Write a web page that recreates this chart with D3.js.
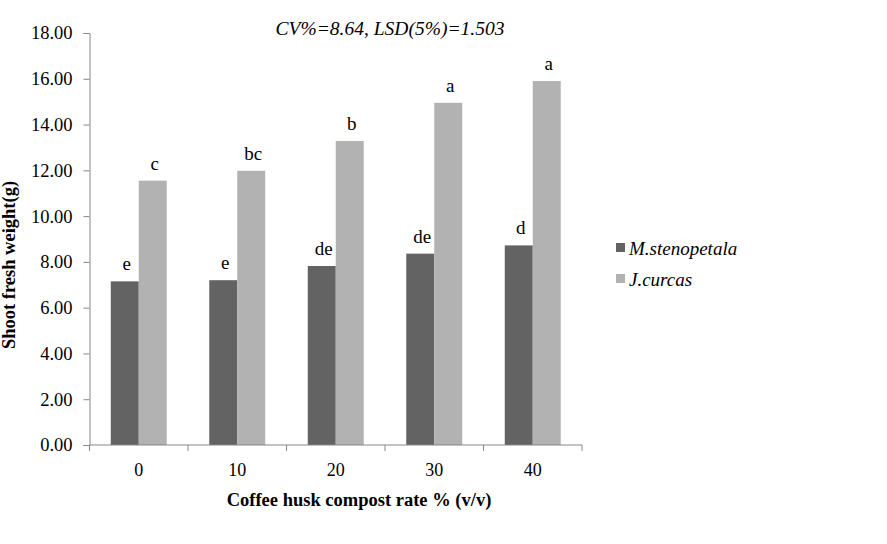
<!DOCTYPE html>
<html><head><meta charset="utf-8">
<script src="https://cdn.jsdelivr.net/npm/d3@7/dist/d3.min.js"></script>
<style>body{margin:0;background:#fff}svg{display:block}
svg text{font-family:"Liberation Serif","Times New Roman",Times,"DejaVu Serif",serif;}</style>
</head><body>
<svg id="c" width="887" height="544"></svg>
<script>
const categories = ["0","10","20","30","40"];
const seriesNames = ["M.stenopetala","J.curcas"];
const mStenopetala = [7.15, 7.20, 7.82, 8.36, 8.72];
const jCurcas = [11.55, 11.98, 13.28, 14.95, 15.90];
const mLetters = ["e","e","de","de","d"];
const jLetters = ["c","bc","b","a","a"];
const yTicks = [0,2,4,6,8,10,12,14,16,18];
const colors = ["#636363","#b2b2b2"];
const titleText = "CV%=8.64, LSD(5%)=1.503";
const xTitle = "Coffee husk compost rate % (v/v)";
const yTitle = "Shoot fresh weight(g)";

const svg = d3.select("#c");
const L = 89.5, R = 582, T = 33, B = 445;

const x0 = d3.scaleBand().domain(categories).range([L, R]).padding(0);
const x1 = d3.scaleBand().domain(seriesNames).range([0, x0.bandwidth()]).paddingInner(0).paddingOuter(0.76);
const y = d3.scaleLinear().domain([0, 18]).range([B, T]);

const data = categories.map((c,i)=>({cat:c, vals:[
  {s:seriesNames[0], v:mStenopetala[i], l:mLetters[i], c:colors[0]},
  {s:seriesNames[1], v:jCurcas[i], l:jLetters[i], c:colors[1]}]}));

const g = svg.append("g");
const grp = g.selectAll("g.grp").data(data).enter().append("g")
  .attr("transform", d=>`translate(${x0(d.cat)},0)`);
grp.selectAll("rect").data(d=>d.vals).enter().append("rect")
  .attr("x", d=>x1(d.s)).attr("width", x1.bandwidth())
  .attr("y", d=>y(d.v)).attr("height", d=>B - y(d.v))
  .attr("fill", d=>d.c);
grp.selectAll("text").data(d=>d.vals).enter().append("text")
  .attr("x", d=>x1(d.s)+x1.bandwidth()/2 + 2).attr("y", d=>y(d.v)-11)
  .attr("text-anchor","middle").style("font-size","19px")
  .text(d=>d.l);

// Y axis
const ya = svg.append("g").attr("transform",`translate(${L},0)`)
  .call(d3.axisLeft(y).tickValues(yTicks).tickFormat(d3.format(".2f")).tickSizeOuter(0).tickSize(6).tickPadding(11));
ya.attr("font-family",null).attr("font-size",null);
ya.selectAll("path,line").attr("stroke","#878787");
ya.selectAll("text").style("font-size","18.5px").attr("fill","#000");

// X axis with ticks at band boundaries
const xa = svg.append("g").attr("transform",`translate(0,${B})`);
xa.append("line").attr("x1",L).attr("x2",R).attr("stroke","#878787");
const bounds = categories.map(c=>x0(c)).concat([R]);
xa.selectAll("line.t").data(bounds).enter().append("line")
  .attr("x1",d=>d).attr("x2",d=>d).attr("y1",0).attr("y2",6).attr("stroke","#878787");
xa.selectAll("text").data(categories).enter().append("text")
  .attr("x",d=>x0(d)+x0.bandwidth()/2).attr("y",31)
  .attr("text-anchor","middle").style("font-size","18px")
  .text(d=>d);

svg.append("text").attr("x",359).attr("y",506).attr("text-anchor","middle")
  .style("font-size","18.5px").style("font-weight","bold").text(xTitle);
svg.append("text").attr("transform","translate(15,265) rotate(-90)").attr("text-anchor","middle")
  .style("font-size","18.5px").style("font-weight","bold").text(yTitle);
svg.append("text").attr("x",390).attr("y",35).attr("text-anchor","middle")
  .style("font-size","19.5px").style("font-style","italic").text(titleText);

// Legend
const lg = svg.append("g").selectAll("g").data(seriesNames).enter().append("g")
  .attr("transform",(d,i)=>`translate(616,${243+i*31})`);
lg.append("rect").attr("width",9).attr("height",9).attr("fill",(d,i)=>colors[i]);
lg.append("text").attr("x",13).attr("y",12).style("font-size","19px")
  .style("font-style","italic").text(d=>d);
</script>
</body></html>
